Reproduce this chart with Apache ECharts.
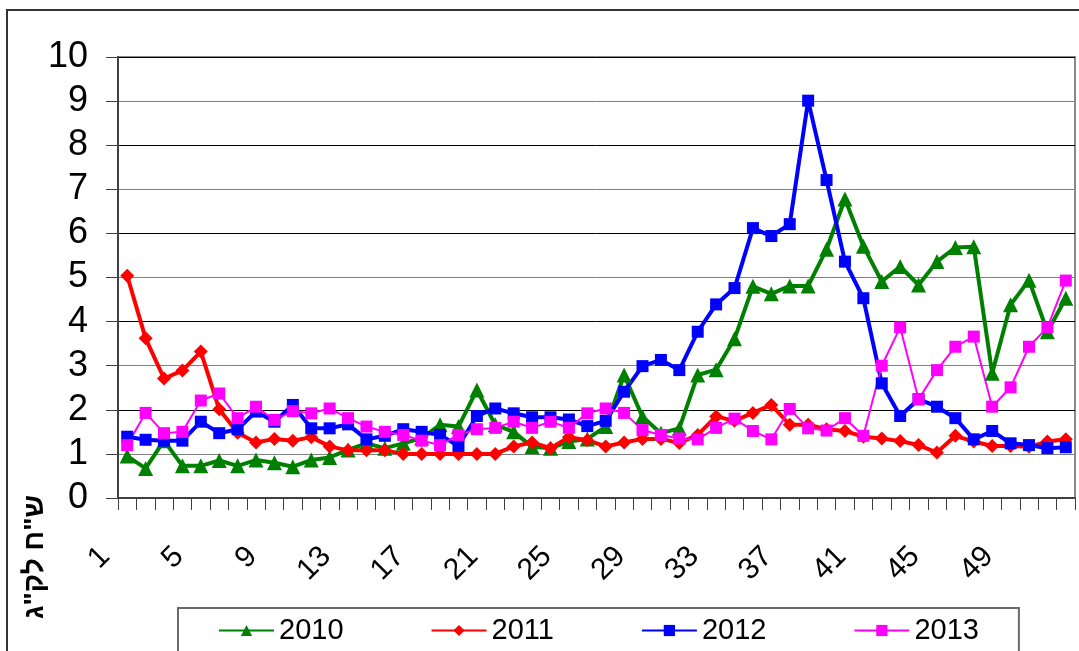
<!DOCTYPE html>
<html>
<head>
<meta charset="utf-8">
<script src="https://cdn.jsdelivr.net/npm/echarts@6/dist/echarts.min.js"></script>
<style>
html,body{margin:0;padding:0;background:#fff;}
#chart{width:1079px;height:651px;}
</style>
</head>
<body>
<div id="chart"></div>
<script>
const weeks = ['1','2','3','4','5','6','7','8','9','10','11','12','13','14','15','16','17','18','19','20','21','22','23','24','25','26','27','28','29','30','31','32','33','34','35','36','37','38','39','40','41','42','43','44','45','46','47','48','49','50','51','52'];
const seriesNames = ['2010','2011','2012','2013'];
const yTicks = [0,1,2,3,4,5,6,7,8,9,10];
const yAxisTitle = 'ש"ח לק"ג';

const v2010 = [0.95,0.67,1.30,0.73,0.73,0.85,0.73,0.86,0.80,0.71,0.86,0.92,1.09,1.24,1.13,1.24,1.36,1.66,1.62,2.45,1.66,1.50,1.16,1.13,1.28,1.34,1.62,2.79,1.84,1.47,1.58,2.79,2.91,3.61,4.80,4.63,4.81,4.81,5.64,6.78,5.71,4.91,5.25,4.83,5.36,5.68,5.70,2.83,4.38,4.94,3.77,4.53];
const v2011 = [5.04,3.62,2.71,2.89,3.32,2.01,1.48,1.26,1.34,1.30,1.38,1.17,1.08,1.08,1.08,1.00,1.00,1.00,1.00,1.00,1.00,1.17,1.26,1.13,1.38,1.31,1.17,1.26,1.34,1.34,1.25,1.43,1.85,1.75,1.93,2.11,1.66,1.66,1.56,1.52,1.39,1.35,1.29,1.20,1.03,1.41,1.28,1.18,1.18,1.16,1.28,1.33];
const v2012 = [1.39,1.32,1.30,1.30,1.73,1.47,1.56,1.96,1.73,2.11,1.58,1.58,1.67,1.33,1.41,1.56,1.50,1.43,1.18,1.86,2.03,1.92,1.83,1.83,1.78,1.63,1.75,2.41,2.99,3.13,2.90,3.77,4.39,4.76,6.12,5.94,6.21,9.01,7.21,5.36,4.53,2.60,1.86,2.24,2.07,1.81,1.33,1.52,1.24,1.20,1.13,1.15];
const v2013 = [1.20,1.93,1.47,1.50,2.21,2.37,1.81,2.07,1.77,1.97,1.92,2.03,1.81,1.62,1.50,1.43,1.30,1.20,1.43,1.56,1.59,1.73,1.59,1.73,1.59,1.92,2.03,1.93,1.54,1.43,1.35,1.33,1.59,1.80,1.52,1.33,2.02,1.58,1.53,1.81,1.41,3.00,3.87,2.24,2.90,3.43,3.66,2.07,2.51,3.43,3.87,4.93];

const FONT = '"Liberation Sans", Arial, sans-serif';
const chart = echarts.init(document.getElementById('chart'), null, {renderer: 'canvas'});

function mkSeries(name, data, color, symbol, symbolSize, width) {
  return {
    name: name,
    type: 'line',
    data: data,
    symbol: symbol,
    symbolSize: symbolSize,
    showAllSymbol: true,
    lineStyle: {color: color, width: width},
    itemStyle: {color: color, borderColor: color, borderWidth: 0},
    emphasis: {disabled: true},
    animation: false
  };
}

const option = {
  backgroundColor: '#ffffff',
  animation: false,
  graphic: [
    {
      type: 'rect',
      shape: {x: 7, y: 10, width: 1120, height: 700},
      style: {fill: 'none', stroke: '#333333', lineWidth: 2},
      z: 0, silent: true
    },
    {
      type: 'text',
      x: 35, y: 557,
      rotation: Math.PI / 2,
      style: {
        text: yAxisTitle,
        font: 'bold 28px ' + FONT,
        fill: '#000',
        textAlign: 'center',
        textVerticalAlign: 'middle'
      },
      z: 10, silent: true
    }
  ],
  grid: {
    left: 118, right: 4, top: 57, bottom: 153,
    show: true,
    borderColor: '#8a8a8a',
    borderWidth: 2,
    backgroundColor: '#ffffff'
  },
  legend: {
    data: seriesNames,
    left: 178, top: 608,
    orient: 'horizontal',
    padding: [8, 40, 30, 40],
    itemGap: 87,
    itemWidth: 55,
    itemHeight: 14,
    borderColor: '#6a6a6a',
    borderWidth: 2,
    textStyle: {fontFamily: FONT, fontSize: 29, color: '#000'}
  },
  xAxis: {
    type: 'category',
    data: weeks,
    boundaryGap: true,
    axisLine: {show: true, lineStyle: {color: '#404040', width: 2}},
    axisTick: {show: true, interval: 0, length: 12, lineStyle: {color: '#404040', width: 1}},
    axisLabel: {
      interval: 3,
      rotate: 45,
      margin: 32,
      padding: [0, 31, 0, 0],
      fontFamily: FONT,
      fontSize: 30,
      color: '#000'
    },
    splitLine: {show: false}
  },
  yAxis: {
    type: 'value',
    min: yTicks[0],
    max: yTicks[yTicks.length - 1],
    interval: 1,
    axisLine: {show: true, lineStyle: {color: '#404040', width: 2}},
    axisTick: {show: true, length: 12, lineStyle: {color: '#404040', width: 1}},
    axisLabel: {
      margin: 30,
      fontFamily: FONT,
      fontSize: 36,
      color: '#000'
    },
    splitLine: {show: true, lineStyle: {color: ['#000000', '#808080'], width: 1}}
  },
  series: [
    mkSeries(seriesNames[0], v2010, '#008000', 'triangle', 15, 4),
    mkSeries(seriesNames[1], v2011, '#ff0000', 'diamond', 14, 4),
    mkSeries(seriesNames[2], v2012, '#0000ff', 'rect', 12, 4),
    mkSeries(seriesNames[3], v2013, '#ff00ff', 'rect', 12, 2)
  ]
};
chart.setOption(option);
</script>
</body>
</html>
